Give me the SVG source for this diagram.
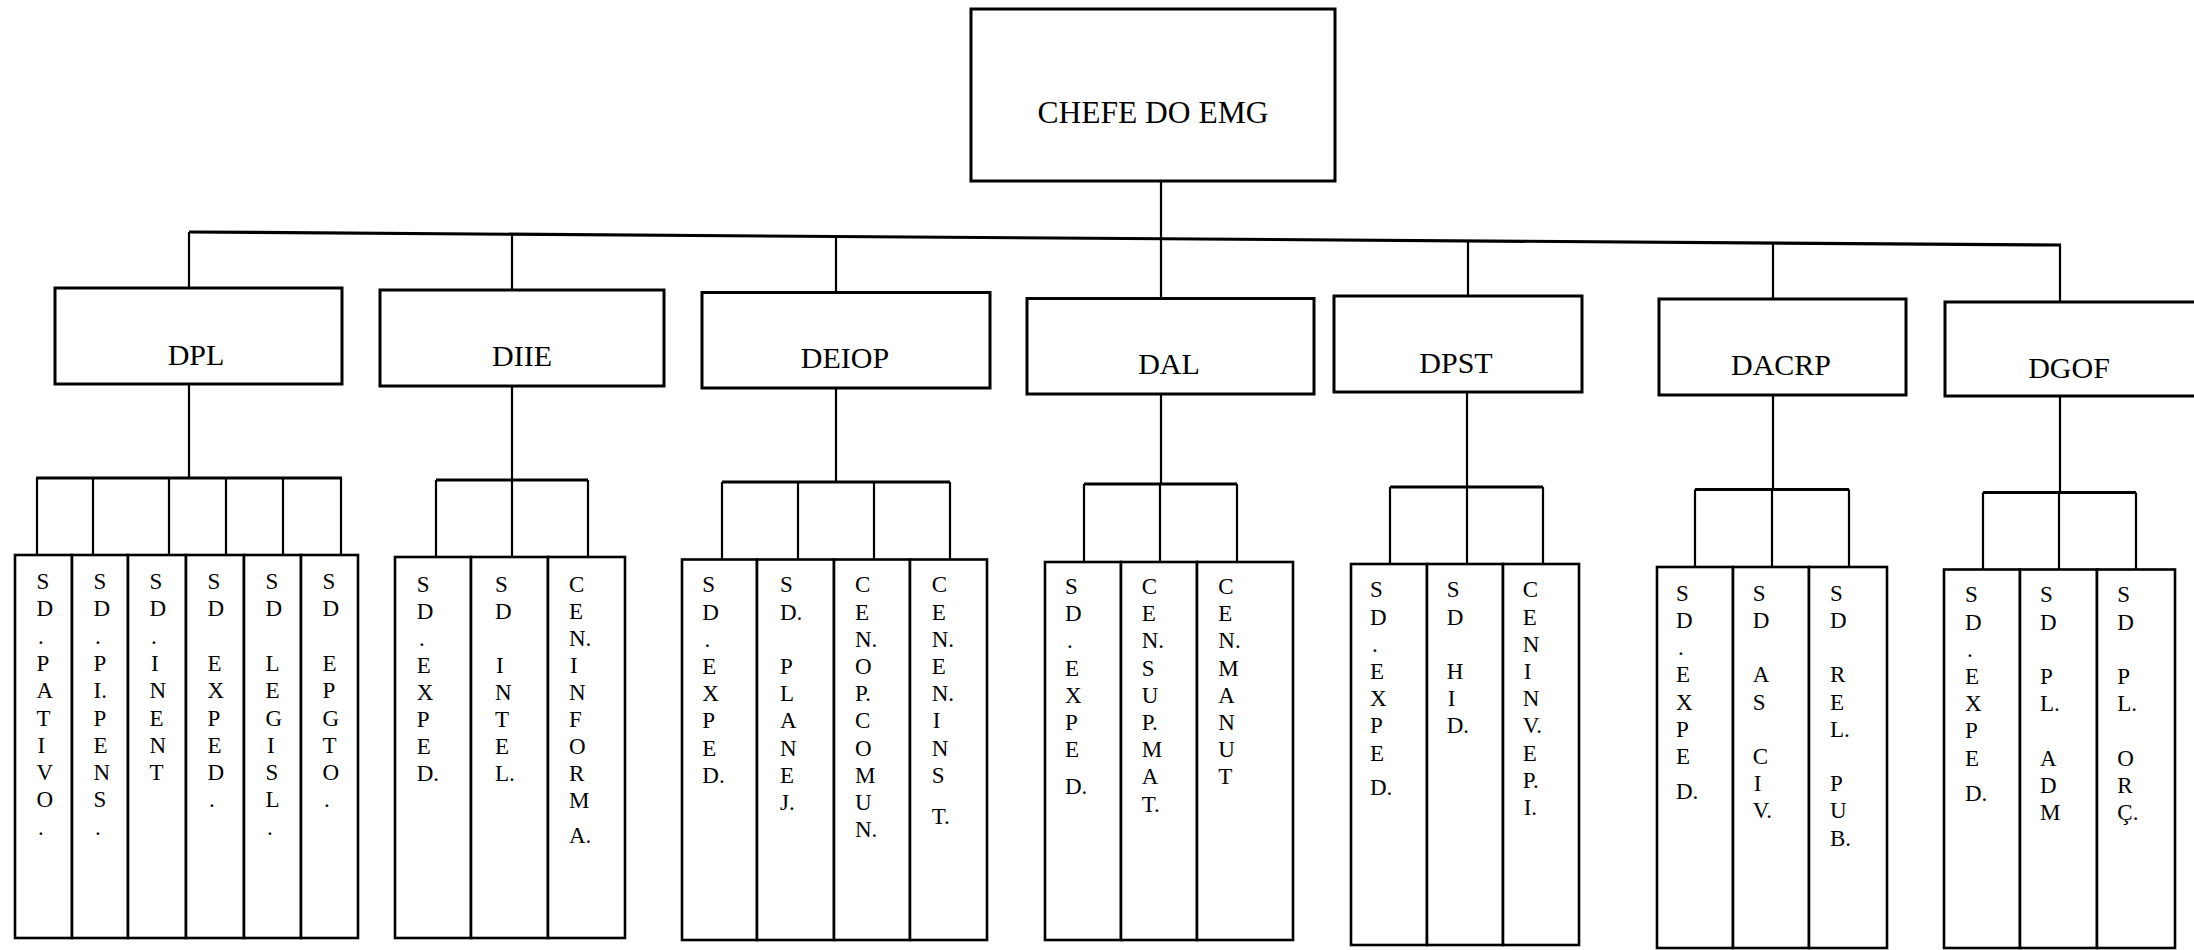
<svg xmlns="http://www.w3.org/2000/svg" width="2194" height="950" viewBox="0 0 2194 950">
<style>
.box{fill:#fff;stroke:#000;stroke-width:3}
.col{fill:#fff;stroke:#000;stroke-width:2.6}
.ln{stroke:#000;stroke-width:2.2;fill:none}
.bus{stroke:#000;stroke-width:3.2;fill:none}
.t{font-family:"Liberation Serif","Times New Roman",serif;fill:#000}
.big{font-size:31.5px;text-anchor:middle}
.dir{font-size:30px;text-anchor:middle}
.v{font-size:23px}
</style>
<rect width="2194" height="950" fill="#fff"/>
<g id="connectors">
<line class="ln" x1="1161" y1="181" x2="1161" y2="238.7"/>
<line class="bus" x1="189" y1="232" x2="2061" y2="245"/>
<line class="ln" x1="189" y1="232" x2="189" y2="288"/>
<line class="ln" x1="512" y1="234.2" x2="512" y2="290"/>
<line class="ln" x1="836" y1="236.5" x2="836" y2="292.5"/>
<line class="ln" x1="1161" y1="238.7" x2="1161" y2="298.5"/>
<line class="ln" x1="1468" y1="240.9" x2="1468" y2="296"/>
<line class="ln" x1="1773" y1="243" x2="1773" y2="299"/>
<line class="ln" x1="2060" y1="245" x2="2060" y2="302"/>
<!-- DPL -->
<line class="ln" x1="189" y1="384" x2="189" y2="478"/>
<line class="bus" x1="36" y1="478" x2="342" y2="478"/>
<path class="ln" d="M37 478V555M93 478V555M169 478V555M226 478V555M283 478V555M341 478V555"/>
<!-- DIIE -->
<line class="ln" x1="512" y1="386" x2="512" y2="480"/>
<line class="bus" x1="436" y1="480" x2="588" y2="480"/>
<path class="ln" d="M436 480V557M512 480V557M588 480V557"/>
<!-- DEIOP -->
<line class="ln" x1="836" y1="388" x2="836" y2="482"/>
<line class="bus" x1="722" y1="482" x2="950" y2="482"/>
<path class="ln" d="M722 482V559M798 482V559M874 482V559M950 482V559"/>
<!-- DAL -->
<line class="ln" x1="1161" y1="394" x2="1161" y2="484"/>
<line class="bus" x1="1084" y1="484" x2="1237" y2="484"/>
<path class="ln" d="M1084 484V562M1160 484V562M1237 484V562"/>
<!-- DPST -->
<line class="ln" x1="1467" y1="392" x2="1467" y2="487"/>
<line class="bus" x1="1390" y1="487" x2="1543" y2="487"/>
<path class="ln" d="M1390 487V564M1467 487V564M1543 487V564"/>
<!-- DACRP -->
<line class="ln" x1="1773" y1="395" x2="1773" y2="489.5"/>
<line class="bus" x1="1695" y1="489.5" x2="1849" y2="489.5"/>
<path class="ln" d="M1695 489.5V567M1772 489.5V567M1849 489.5V567"/>
<!-- DGOF -->
<line class="ln" x1="2060" y1="397" x2="2060" y2="492.5"/>
<line class="bus" x1="1983" y1="492.5" x2="2136" y2="492.5"/>
<path class="ln" d="M1983 492.5V569.5M2059 492.5V569.5M2136 492.5V569.5"/>
</g>

<g id="chefe"><rect class="box" x="971" y="9" width="364" height="172"/><text class="t big" x="1153" y="123">CHEFE DO EMG</text></g>

<g id="dpl"><rect class="box" x="55" y="288" width="287" height="96"/><text class="t dir" x="196" y="365">DPL</text></g>
<g id="diie"><rect class="box" x="380" y="290" width="284" height="96"/><text class="t dir" x="522" y="366">DIIE</text></g>
<g id="deiop"><rect class="box" x="702" y="292.5" width="288" height="95.5"/><text class="t dir" x="845" y="368">DEIOP</text></g>
<g id="dal"><rect class="box" x="1027" y="298.5" width="287" height="95.5"/><text class="t dir" x="1169" y="374">DAL</text></g>
<g id="dpst"><rect class="box" x="1334" y="296" width="248" height="96"/><text class="t dir" x="1456" y="373">DPST</text></g>
<g id="dacrp"><rect class="box" x="1659" y="299" width="247" height="96"/><text class="t dir" x="1781" y="375">DACRP</text></g>
<g id="dgof"><rect class="box" x="1945" y="302" width="260" height="94"/><text class="t dir" x="2069" y="378">DGOF</text></g>

<!-- DPL sub units -->
<g id="dpl-1"><rect class="col" x="15" y="555" width="57" height="383"/><text class="t v"><tspan x="36.5" y="589">S</tspan><tspan x="36.5" dy="27.3">D</tspan><tspan x="38" dy="27.3">.</tspan><tspan x="36.5" dy="27.3">P</tspan><tspan x="36.5" dy="27.3">A</tspan><tspan x="36.5" dy="27.3">T</tspan><tspan x="37.5" dy="27.3">I</tspan><tspan x="36.5" dy="27.3">V</tspan><tspan x="36.5" dy="27.3">O</tspan><tspan x="38" dy="27.3">.</tspan></text></g>
<g id="dpl-2"><rect class="col" x="72" y="555" width="56" height="383"/><text class="t v"><tspan x="93.5" y="589">S</tspan><tspan x="93.5" dy="27.3">D</tspan><tspan x="95" dy="27.3">.</tspan><tspan x="93.5" dy="27.3">P</tspan><tspan x="93.5" dy="27.3">I.</tspan><tspan x="93.5" dy="27.3">P</tspan><tspan x="93.5" dy="27.3">E</tspan><tspan x="93.5" dy="27.3">N</tspan><tspan x="93.5" dy="27.3">S</tspan><tspan x="95" dy="27.3">.</tspan></text></g>
<g id="dpl-3"><rect class="col" x="128" y="555" width="58" height="383"/><text class="t v"><tspan x="149.5" y="589">S</tspan><tspan x="149.5" dy="27.3">D</tspan><tspan x="151" dy="27.3">.</tspan><tspan x="151" dy="27.3">I</tspan><tspan x="149.5" dy="27.3">N</tspan><tspan x="149.5" dy="27.3">E</tspan><tspan x="149.5" dy="27.3">N</tspan><tspan x="149.5" dy="27.3">T</tspan></text></g>
<g id="dpl-4"><rect class="col" x="186" y="555" width="58" height="383"/><text class="t v"><tspan x="207.5" y="589">S</tspan><tspan x="207.5" dy="27.3">D</tspan><tspan x="207.5" dy="54.6">E</tspan><tspan x="207.5" dy="27.3">X</tspan><tspan x="207.5" dy="27.3">P</tspan><tspan x="207.5" dy="27.3">E</tspan><tspan x="207.5" dy="27.3">D</tspan><tspan x="209" dy="27.3">.</tspan></text></g>
<g id="dpl-5"><rect class="col" x="244" y="555" width="57" height="383"/><text class="t v"><tspan x="265.5" y="589">S</tspan><tspan x="265.5" dy="27.3">D</tspan><tspan x="265.5" dy="54.6">L</tspan><tspan x="265.5" dy="27.3">E</tspan><tspan x="265.5" dy="27.3">G</tspan><tspan x="267" dy="27.3">I</tspan><tspan x="265.5" dy="27.3">S</tspan><tspan x="265.5" dy="27.3">L</tspan><tspan x="267" dy="27.3">.</tspan></text></g>
<g id="dpl-6"><rect class="col" x="301" y="555" width="57" height="383"/><text class="t v"><tspan x="322.5" y="589">S</tspan><tspan x="322.5" dy="27.3">D</tspan><tspan x="322.5" dy="54.6">E</tspan><tspan x="322.5" dy="27.3">P</tspan><tspan x="322.5" dy="27.3">G</tspan><tspan x="322.5" dy="27.3">T</tspan><tspan x="322.5" dy="27.3">O</tspan><tspan x="324" dy="27.3">.</tspan></text></g>

<!-- DIIE sub units -->
<g id="diie-1"><rect class="col" x="395" y="557" width="76" height="381"/><text class="t v"><tspan x="416.7" y="592.3">S</tspan><tspan x="416.7" dy="27">D</tspan><tspan x="419" dy="27">.</tspan><tspan x="416.7" dy="27">E</tspan><tspan x="416.7" dy="27">X</tspan><tspan x="416.7" dy="27">P</tspan><tspan x="416.7" dy="27">E</tspan><tspan x="416.7" dy="27">D.</tspan></text></g>
<g id="diie-2"><rect class="col" x="471" y="557" width="77" height="381"/><text class="t v"><tspan x="495" y="592.3">S</tspan><tspan x="495" dy="27">D</tspan><tspan x="496" dy="54">I</tspan><tspan x="495" dy="27">N</tspan><tspan x="495" dy="27">T</tspan><tspan x="495" dy="27">E</tspan><tspan x="495" dy="27">L.</tspan></text></g>
<g id="diie-3"><rect class="col" x="548" y="557" width="77" height="381"/><text class="t v"><tspan x="569" y="592.3">C</tspan><tspan x="569" dy="27">E</tspan><tspan x="569" dy="27">N.</tspan><tspan x="570" dy="27">I</tspan><tspan x="569" dy="27">N</tspan><tspan x="569" dy="27">F</tspan><tspan x="569" dy="27">O</tspan><tspan x="569" dy="27">R</tspan><tspan x="569" dy="27">M</tspan><tspan x="569" dy="35">A.</tspan></text></g>

<!-- DEIOP sub units -->
<g id="deiop-1"><rect class="col" x="682" y="559.5" width="75" height="380.5"/><text class="t v"><tspan x="702.3" y="592.3">S</tspan><tspan x="702.3" dy="27.2">D</tspan><tspan x="704.5" dy="27.2">.</tspan><tspan x="702.3" dy="27.2">E</tspan><tspan x="702.3" dy="27.2">X</tspan><tspan x="702.3" dy="27.2">P</tspan><tspan x="702.3" dy="27.2">E</tspan><tspan x="702.3" dy="27.2">D.</tspan></text></g>
<g id="deiop-2"><rect class="col" x="757" y="559.5" width="77" height="380.5"/><text class="t v"><tspan x="780" y="592.3">S</tspan><tspan x="780" dy="27.2">D.</tspan><tspan x="780" dy="54.4">P</tspan><tspan x="780" dy="27.2">L</tspan><tspan x="780" dy="27.2">A</tspan><tspan x="780" dy="27.2">N</tspan><tspan x="780" dy="27.2">E</tspan><tspan x="780" dy="27.2">J.</tspan></text></g>
<g id="deiop-3"><rect class="col" x="834" y="559.5" width="76" height="380.5"/><text class="t v"><tspan x="855" y="592.3">C</tspan><tspan x="855" dy="27.2">E</tspan><tspan x="855" dy="27.2">N.</tspan><tspan x="855" dy="27.2">O</tspan><tspan x="855" dy="27.2">P.</tspan><tspan x="855" dy="27.2">C</tspan><tspan x="855" dy="27.2">O</tspan><tspan x="855" dy="27.2">M</tspan><tspan x="855" dy="27.2">U</tspan><tspan x="855" dy="27.2">N.</tspan></text></g>
<g id="deiop-4"><rect class="col" x="910" y="559.5" width="77" height="380.5"/><text class="t v"><tspan x="931.7" y="592.3">C</tspan><tspan x="931.7" dy="27.2">E</tspan><tspan x="931.7" dy="27.2">N.</tspan><tspan x="931.7" dy="27.2">E</tspan><tspan x="931.7" dy="27.2">N.</tspan><tspan x="932.7" dy="27.2">I</tspan><tspan x="931.7" dy="27.2">N</tspan><tspan x="931.7" dy="27.2">S</tspan><tspan x="931.7" dy="41">T.</tspan></text></g>

<!-- DAL sub units -->
<g id="dal-1"><rect class="col" x="1045" y="562" width="76" height="378"/><text class="t v"><tspan x="1065" y="594">S</tspan><tspan x="1065" dy="27.2">D</tspan><tspan x="1067" dy="27.2">.</tspan><tspan x="1065" dy="27.2">E</tspan><tspan x="1065" dy="27.2">X</tspan><tspan x="1065" dy="27.2">P</tspan><tspan x="1065" dy="27.2">E</tspan><tspan x="1065" dy="37">D.</tspan></text></g>
<g id="dal-2"><rect class="col" x="1121" y="562" width="76" height="378"/><text class="t v"><tspan x="1141.7" y="594">C</tspan><tspan x="1141.7" dy="27.2">E</tspan><tspan x="1141.7" dy="27.2">N.</tspan><tspan x="1141.7" dy="27.2">S</tspan><tspan x="1141.7" dy="27.2">U</tspan><tspan x="1141.7" dy="27.2">P.</tspan><tspan x="1141.7" dy="27.2">M</tspan><tspan x="1141.7" dy="27.2">A</tspan><tspan x="1141.7" dy="27.2">T.</tspan></text></g>
<g id="dal-3"><rect class="col" x="1197" y="562" width="96" height="378"/><text class="t v"><tspan x="1218.3" y="594">C</tspan><tspan x="1218.3" dy="27.2">E</tspan><tspan x="1218.3" dy="27.2">N.</tspan><tspan x="1218.3" dy="27.2">M</tspan><tspan x="1218.3" dy="27.2">A</tspan><tspan x="1218.3" dy="27.2">N</tspan><tspan x="1218.3" dy="27.2">U</tspan><tspan x="1218.3" dy="27.2">T</tspan></text></g>

<!-- DPST sub units -->
<g id="dpst-1"><rect class="col" x="1351" y="564" width="76" height="381"/><text class="t v"><tspan x="1370" y="597.3">S</tspan><tspan x="1370" dy="27.2">D</tspan><tspan x="1372" dy="27.2">.</tspan><tspan x="1370" dy="27.2">E</tspan><tspan x="1370" dy="27.2">X</tspan><tspan x="1370" dy="27.2">P</tspan><tspan x="1370" dy="27.2">E</tspan><tspan x="1370" dy="34">D.</tspan></text></g>
<g id="dpst-2"><rect class="col" x="1427" y="564" width="76" height="381"/><text class="t v"><tspan x="1446.7" y="597.3">S</tspan><tspan x="1446.7" dy="27.2">D</tspan><tspan x="1446.7" dy="54.4">H</tspan><tspan x="1447.7" dy="27.2">I</tspan><tspan x="1446.7" dy="27.2">D.</tspan></text></g>
<g id="dpst-3"><rect class="col" x="1503" y="564" width="76" height="381"/><text class="t v"><tspan x="1522.7" y="597.3">C</tspan><tspan x="1522.7" dy="27.2">E</tspan><tspan x="1522.7" dy="27.2">N</tspan><tspan x="1523.7" dy="27.2">I</tspan><tspan x="1522.7" dy="27.2">N</tspan><tspan x="1522.7" dy="27.2">V.</tspan><tspan x="1522.7" dy="27.2">E</tspan><tspan x="1522.7" dy="27.2">P.</tspan><tspan x="1523.7" dy="27.2">I.</tspan></text></g>

<!-- DACRP sub units -->
<g id="dacrp-1"><rect class="col" x="1657" y="567" width="76" height="381"/><text class="t v"><tspan x="1676" y="600.7">S</tspan><tspan x="1676" dy="27.2">D</tspan><tspan x="1678" dy="27.2">.</tspan><tspan x="1676" dy="27.2">E</tspan><tspan x="1676" dy="27.2">X</tspan><tspan x="1676" dy="27.2">P</tspan><tspan x="1676" dy="27.2">E</tspan><tspan x="1676" dy="35">D.</tspan></text></g>
<g id="dacrp-2"><rect class="col" x="1733" y="567" width="76" height="381"/><text class="t v"><tspan x="1752.7" y="600.7">S</tspan><tspan x="1752.7" dy="27.2">D</tspan><tspan x="1752.7" dy="54.4">A</tspan><tspan x="1752.7" dy="27.2">S</tspan><tspan x="1752.7" dy="54.4">C</tspan><tspan x="1753.7" dy="27.2">I</tspan><tspan x="1752.7" dy="27.2">V.</tspan></text></g>
<g id="dacrp-3"><rect class="col" x="1809" y="567" width="78" height="381"/><text class="t v"><tspan x="1830" y="600.7">S</tspan><tspan x="1830" dy="27.2">D</tspan><tspan x="1830" dy="54.4">R</tspan><tspan x="1830" dy="27.2">E</tspan><tspan x="1830" dy="27.2">L.</tspan><tspan x="1830" dy="54.4">P</tspan><tspan x="1830" dy="27.2">U</tspan><tspan x="1830" dy="27.2">B.</tspan></text></g>

<!-- DGOF sub units -->
<g id="dgof-1"><rect class="col" x="1944" y="569.5" width="76" height="378.5"/><text class="t v"><tspan x="1965" y="602.3">S</tspan><tspan x="1965" dy="27.2">D</tspan><tspan x="1967" dy="27.2">.</tspan><tspan x="1965" dy="27.2">E</tspan><tspan x="1965" dy="27.2">X</tspan><tspan x="1965" dy="27.2">P</tspan><tspan x="1965" dy="27.2">E</tspan><tspan x="1965" dy="35">D.</tspan></text></g>
<g id="dgof-2"><rect class="col" x="2020" y="569.5" width="77" height="378.5"/><text class="t v"><tspan x="2040" y="602.3">S</tspan><tspan x="2040" dy="27.2">D</tspan><tspan x="2040" dy="54.4">P</tspan><tspan x="2040" dy="27.2">L.</tspan><tspan x="2040" dy="54.4">A</tspan><tspan x="2040" dy="27.2">D</tspan><tspan x="2040" dy="27.2">M</tspan></text></g>
<g id="dgof-3"><rect class="col" x="2097" y="569.5" width="78" height="378.5"/><text class="t v"><tspan x="2117.3" y="602.3">S</tspan><tspan x="2117.3" dy="27.2">D</tspan><tspan x="2117.3" dy="54.4">P</tspan><tspan x="2117.3" dy="27.2">L.</tspan><tspan x="2117.3" dy="54.4">O</tspan><tspan x="2117.3" dy="27.2">R</tspan><tspan x="2117.3" dy="27.2">Ç.</tspan></text></g>
</svg>
